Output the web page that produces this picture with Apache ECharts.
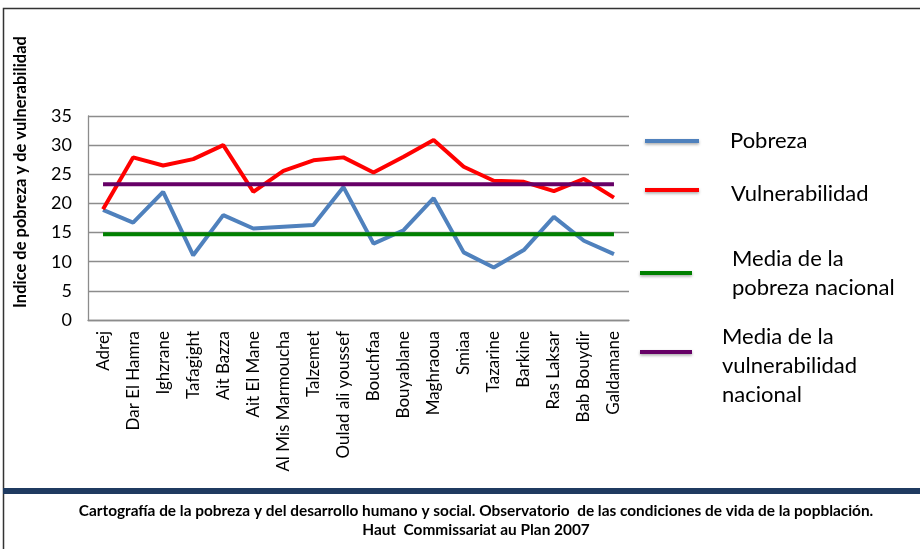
<!DOCTYPE html>
<html><head><meta charset="utf-8">
<script src="https://cdn.jsdelivr.net/npm/echarts@6/dist/echarts.min.js"></script>
<style>html,body{margin:0;padding:0;background:#fff}#c{width:920px;height:549px}</style>
</head><body><div id="c"></div>
<script>
const categories = ["Adrej","Dar El Hamra","Ighzrane","Tafagight","Ait Bazza","Ait El Mane","Al Mis Marmoucha","Talzemet","Oulad ali youssef","Bouchfaa","Bouyablane","Maghraoua","Smiaa","Tazarine","Barkine","Ras Laksar","Bab Bouydir","Galdamane"];
const pobreza = [18.9,16.7,22.0,11.1,18.0,15.7,16.0,16.3,22.8,13.1,15.4,20.9,11.6,9.0,12.0,17.7,13.6,11.3];
const vulnerabilidad = [19.0,27.9,26.5,27.6,30.0,22.0,25.6,27.4,27.9,25.3,28.0,30.9,26.3,23.9,23.7,22.1,24.2,21.0];
const mediaPobreza = 14.7;
const mediaVulnerabilidad = 23.3;
const yTicks = [0,5,10,15,20,25,30,35];
const seriesNames = ["Pobreza","Vulnerabilidad","Media de la\npobreza nacional","Media de la\nvulnerabilidad\nnacional"];
const yTitle = "Indice de pobreza y de vulnerabilidad";
const caption1 = "Cartografía de la pobreza y del desarrollo humano y social. Observatorio  de las condiciones de vida de la popblación.";
const caption2 = "Haut  Commissariat au Plan 2007";

const FONT = "Lato";
const colors = ["#4f81bd","#ff0000","#008000","#660066"];
const chart = echarts.init(document.getElementById('c'));

const legendItems = [
  {x1:645,x2:699,y:141,tx:730,ty:141},
  {x1:645,x2:699,y:190,tx:731,ty:194},
  {x1:640,x2:692,y:273,tx:732,ty:273},
  {x1:640,x2:692,y:352,tx:722,ty:366}
];
const graphics = [
  {type:'rect',shape:{x:3.5,y:8.5,width:940,height:560},style:{fill:'none',stroke:'#333',lineWidth:1.5},silent:true,z:0},
  {type:'rect',shape:{x:3,y:488,width:920,height:6},style:{fill:'#1f3a60'},silent:true},
  {type:'text',x:21,y:172,rotation:Math.PI/2,style:{text:yTitle,font:'bold 16.5px '+FONT,fill:'#000',textAlign:'center',textVerticalAlign:'middle'}},
  {type:'text',x:476,y:511,style:{text:caption1,font:'bold 15.4px '+FONT,fill:'#000',textAlign:'center',textVerticalAlign:'middle'}},
  {type:'text',x:476,y:530,style:{text:caption2,font:'bold 15.4px '+FONT,fill:'#000',textAlign:'center',textVerticalAlign:'middle'}}
];
legendItems.forEach((l,i)=>{
  graphics.push({type:'line',shape:{x1:l.x1,y1:l.y,x2:l.x2,y2:l.y},style:{stroke:colors[i],lineWidth:4,shadowBlur:3,shadowColor:'rgba(0,0,0,0.35)',shadowOffsetY:1.5}});
  graphics.push({type:'text',x:l.tx,y:l.ty,style:{text:seriesNames[i],font:'22px '+FONT,lineHeight:29,fill:'#000',textAlign:'left',textVerticalAlign:'middle'}});
});

function lineSeries(name,data,color,z){
  return {name:name,type:'line',data:data,symbol:'none',z:z,lineStyle:{color:color,width:4},itemStyle:{color:color}};
}
const option = {
  animation:false,
  grid:{left:88,right:291,top:116,bottom:229,containLabel:false},
  xAxis:{type:'category',data:categories,boundaryGap:true,
    axisLine:{lineStyle:{color:'#8c8c8c',width:1.3}},axisTick:{show:false},
    axisLabel:{rotate:90,interval:0,margin:11,color:'#000',fontFamily:FONT,fontSize:17}},
  yAxis:{type:'value',min:yTicks[0],max:yTicks[yTicks.length-1],interval:5,
    axisLine:{show:true,lineStyle:{color:'#8c8c8c',width:1.3}},axisTick:{show:false},
    splitLine:{lineStyle:{color:'#8c8c8c',width:1.3}},
    axisLabel:{margin:16,color:'#000',fontFamily:FONT,fontSize:18}},
  series:[
    lineSeries(seriesNames[2],categories.map(()=>mediaPobreza),colors[2],3),
    lineSeries(seriesNames[0],pobreza,colors[0],2),
    lineSeries(seriesNames[1],vulnerabilidad,colors[1],2),
    lineSeries(seriesNames[3],categories.map(()=>mediaVulnerabilidad),colors[3],4)
  ],
  graphic:graphics
};
chart.setOption(option);
</script></body></html>
